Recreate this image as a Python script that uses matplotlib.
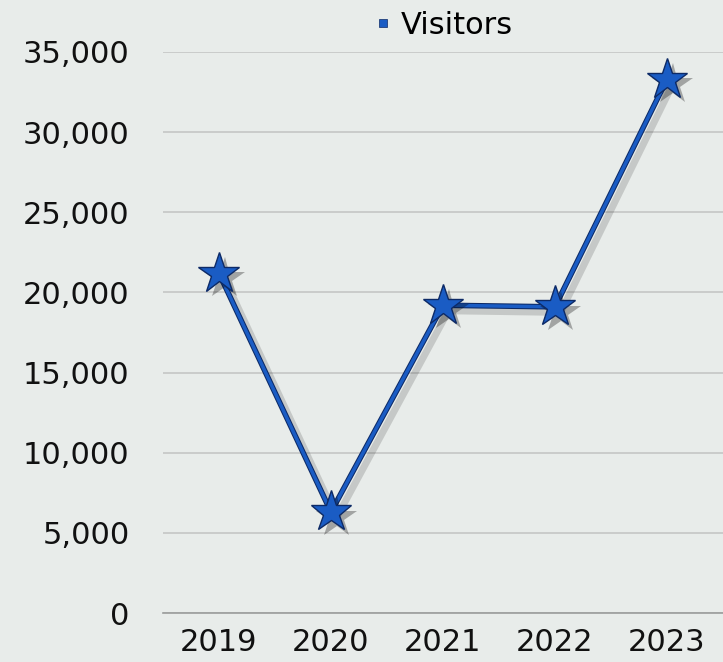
import matplotlib.pyplot as plt
import matplotlib.patheffects as pe
from matplotlib.ticker import FuncFormatter

# data
years = ['2019', '2020', '2021', '2022', '2023']
visitors = [21200, 6300, 19200, 19100, 33300]

bg = '#e8ecea'
blue = '#1a5cc4'
navy = '#0d2a66'

plt.rcParams['font.family'] = ['DejaVu Sans']

fig = plt.figure(figsize=(7.23, 6.62), dpi=100, facecolor=bg)
ax = fig.add_axes([0.2254, 0.074, 0.7746, 0.8475], facecolor=bg)

x = list(range(len(years)))
line_fx = [pe.SimpleLineShadow(offset=(4, -4), shadow_color='black', alpha=0.15, linewidth=5),
           pe.Stroke(linewidth=4, foreground=navy), pe.Normal()]
ax.plot(x, visitors, color=blue, lw=2.5, clip_on=False, zorder=3, path_effects=line_fx)

star_fx = [pe.SimplePatchShadow(offset=(4, -4), shadow_rgbFace='black', alpha=0.3), pe.Normal()]
ax.plot(x, visitors, ls='', marker='*', markersize=31, color=blue,
        markerfacecolor=blue, markeredgecolor=navy, markeredgewidth=1,
        clip_on=False, zorder=4, path_effects=star_fx)

ax.set_xlim(-0.5, 4.5)
ax.set_ylim(0, 35000)
ax.set_yticks(range(0, 35001, 5000))
ax.yaxis.set_major_formatter(FuncFormatter(lambda v, p: f'{int(v):,}'))
ax.set_xticks(x)
ax.set_xticklabels(years)

ax.grid(axis='y', color='#c4c6c5', lw=1.2)
ax.set_axisbelow(True)
for s in ['top', 'right', 'left']:
    ax.spines[s].set_visible(False)
ax.spines['bottom'].set_color('#9a9c9b')
ax.spines['bottom'].set_linewidth(1.2)
ax.tick_params(axis='both', length=0, labelsize=22, colors='#111111')
ax.tick_params(axis='y', pad=24)
ax.tick_params(axis='x', pad=11)

fig.legend(handles=[plt.Line2D([], [], marker='s', ls='', color=blue, markersize=6,
                               markeredgecolor=navy, markeredgewidth=0.5)],
           labels=['Visitors'], loc='center', bbox_to_anchor=(0.609, 0.962),
           frameon=False, fontsize=22, handletextpad=0.1, handlelength=1)

fig.savefig('out.png', dpi=100, facecolor=bg)
